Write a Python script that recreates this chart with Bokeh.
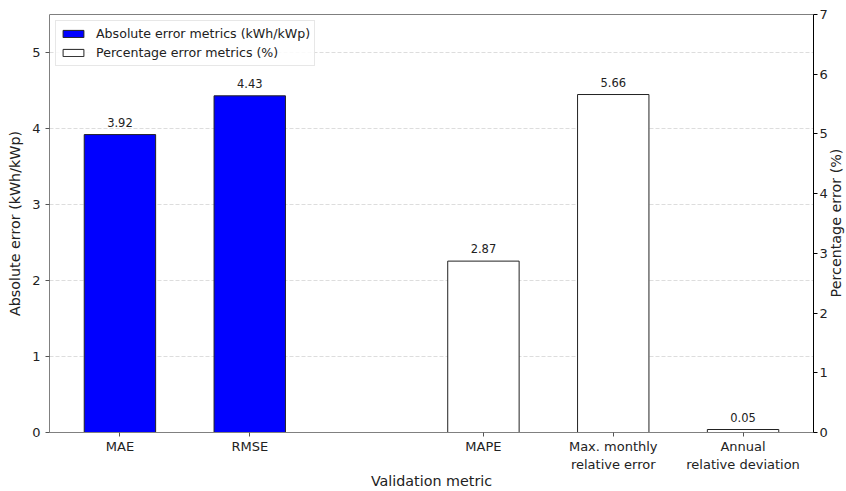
import math
from bokeh.plotting import figure
from bokeh.models import (Range1d, LinearAxis, FixedTicker, Legend, LegendItem,
                          ColumnDataSource, Span, Label)
from bokeh.embed import file_html
from bokeh.resources import INLINE
from bokeh.core.properties import value

# ---- data ----
abs_metrics = ["MAE", "RMSE"]
abs_values = [3.92, 4.43]
pct_metrics = ["MAPE", "Max. monthly\nrelative error", "Annual\nrelative deviation"]
pct_values = [2.87, 5.66, 0.05]
abs_x = [0, 1]
pct_x = [2.8, 3.8, 4.8]
left_ticks = [0, 1, 2, 3, 4, 5]
right_ticks = [0, 1, 2, 3, 4, 5, 6, 7]

FONT = "DejaVu Sans"
BAR_W = 0.55
W, H = 846, 491
ML, MR, MT, MB = 49, 29, 14, 58

p = figure(width=W, height=H, output_backend="svg", toolbar_location=None,
           x_range=Range1d(-0.5425, 5.3425), y_range=Range1d(0, 5.5),
           min_border_left=ML, min_border_right=MR, min_border_top=MT,
           min_border_bottom=MB)
p.extra_y_ranges = {"pct": Range1d(0, 7)}
p.outline_line_color = None
p.background_fill_color = "white"
p.border_fill_color = "white"

# grid
p.xgrid.visible = False
p.ygrid.ticker = FixedTicker(ticks=left_ticks)
p.ygrid.grid_line_color = "#dddddd"
p.ygrid.grid_line_dash = "4 2"
p.ygrid.grid_line_width = 1

abs_src = ColumnDataSource(dict(x=abs_x, top=abs_values,
                                lab=[f"{v:.2f}" for v in abs_values]))
pct_src = ColumnDataSource(dict(x=pct_x, top=pct_values,
                                lab=[f"{v:.2f}" for v in pct_values]))

r_abs = p.vbar(x="x", top="top", width=BAR_W, source=abs_src,
               fill_color="#0000ff", line_color="#222222", line_width=1)
r_pct = p.vbar(x="x", top="top", width=BAR_W, source=pct_src, y_range_name="pct",
               fill_color="white", line_color="#222222", line_width=1)

p.text(x="x", y="top", text="lab", source=abs_src, text_align="center",
       text_baseline="bottom", y_offset=-8, text_font=value(FONT),
       text_font_size="11.5px", text_color="#222222")
p.text(x="x", y="top", text="lab", source=pct_src, y_range_name="pct",
       text_align="center", text_baseline="bottom", y_offset=-8,
       text_font=value(FONT), text_font_size="11.5px", text_color="#222222")

# x axis
xa = p.xaxis[0]
xa.ticker = FixedTicker(ticks=abs_x + pct_x)
xa.major_label_overrides = {x: m for x, m in zip(abs_x + pct_x, abs_metrics + pct_metrics)}
xa.axis_label = "Validation metric"
xa.minor_tick_line_color = None
xa.major_tick_out = 4
xa.major_tick_in = 0
xa.axis_line_color = "#808080"
xa.major_tick_line_color = "#555555"
xa.major_label_standoff = 2
xa.axis_label_standoff = -2
xa.major_label_text_font = FONT
xa.major_label_text_font_size = "13px"
xa.major_label_text_color = "#222222"
xa.axis_label_text_font = FONT
xa.axis_label_text_font_size = "14.3px"
xa.axis_label_text_font_style = "normal"
xa.axis_label_text_color = "#222222"

# left axis
ya = p.yaxis[0]
ya.ticker = FixedTicker(ticks=left_ticks)
ya.axis_label = "Absolute error (kWh/kWp)"
ya.minor_tick_line_color = None
ya.major_tick_out = 4
ya.major_tick_in = 0
ya.axis_line_color = "#808080"
ya.major_tick_line_color = "#555555"
ya.major_label_standoff = 5
ya.axis_label_standoff = 6
ya.major_label_text_font = FONT
ya.major_label_text_font_size = "13px"
ya.major_label_text_color = "#222222"
ya.axis_label_text_font = FONT
ya.axis_label_text_font_size = "14.3px"
ya.axis_label_text_font_style = "normal"
ya.axis_label_text_color = "#222222"

# right axis
ra = LinearAxis(y_range_name="pct", ticker=FixedTicker(ticks=right_ticks))
ra.minor_tick_line_color = None
ra.major_tick_out = 4
ra.major_tick_in = 0
ra.axis_line_color = "black"
ra.major_tick_line_color = "black"
ra.major_label_standoff = 2
ra.major_label_text_font = FONT
ra.major_label_text_font_size = "13px"
ra.major_label_text_color = "#222222"
p.add_layout(ra, "right")

# right axis title (reads bottom-to-top, like matplotlib's twinx label)
frame_h = H - MT - MB
p.add_layout(Label(x=5, y=frame_h / 2, x_units="screen", y_units="screen",
                   text="Percentage error (%)", angle=math.pi / 2,
                   text_align="center", text_baseline="middle",
                   text_font=FONT, text_font_size="14.3px", text_color="#222222"),
             "right")

# top spine
p.add_layout(Span(location=p.y_range.end, dimension="width", line_color="black",
                  line_width=1))

legend = Legend(items=[
    LegendItem(label="Absolute error metrics (kWh/kWp)", renderers=[r_abs]),
    LegendItem(label="Percentage error metrics (%)", renderers=[r_pct]),
], location="top_left")
legend.margin = 6
legend.padding = 4
legend.spacing = 2
legend.label_height = 17
legend.glyph_height = 9
legend.glyph_width = 26
legend.label_standoff = 10
legend.label_text_font = FONT
legend.label_text_font_size = "12.6px"
legend.label_text_color = "#222222"
legend.border_line_color = "#d0d0d0"
legend.border_line_width = 1
legend.background_fill_alpha = 0.85
p.add_layout(legend, "center")

open("out.html", "w").write(file_html(p, INLINE))
